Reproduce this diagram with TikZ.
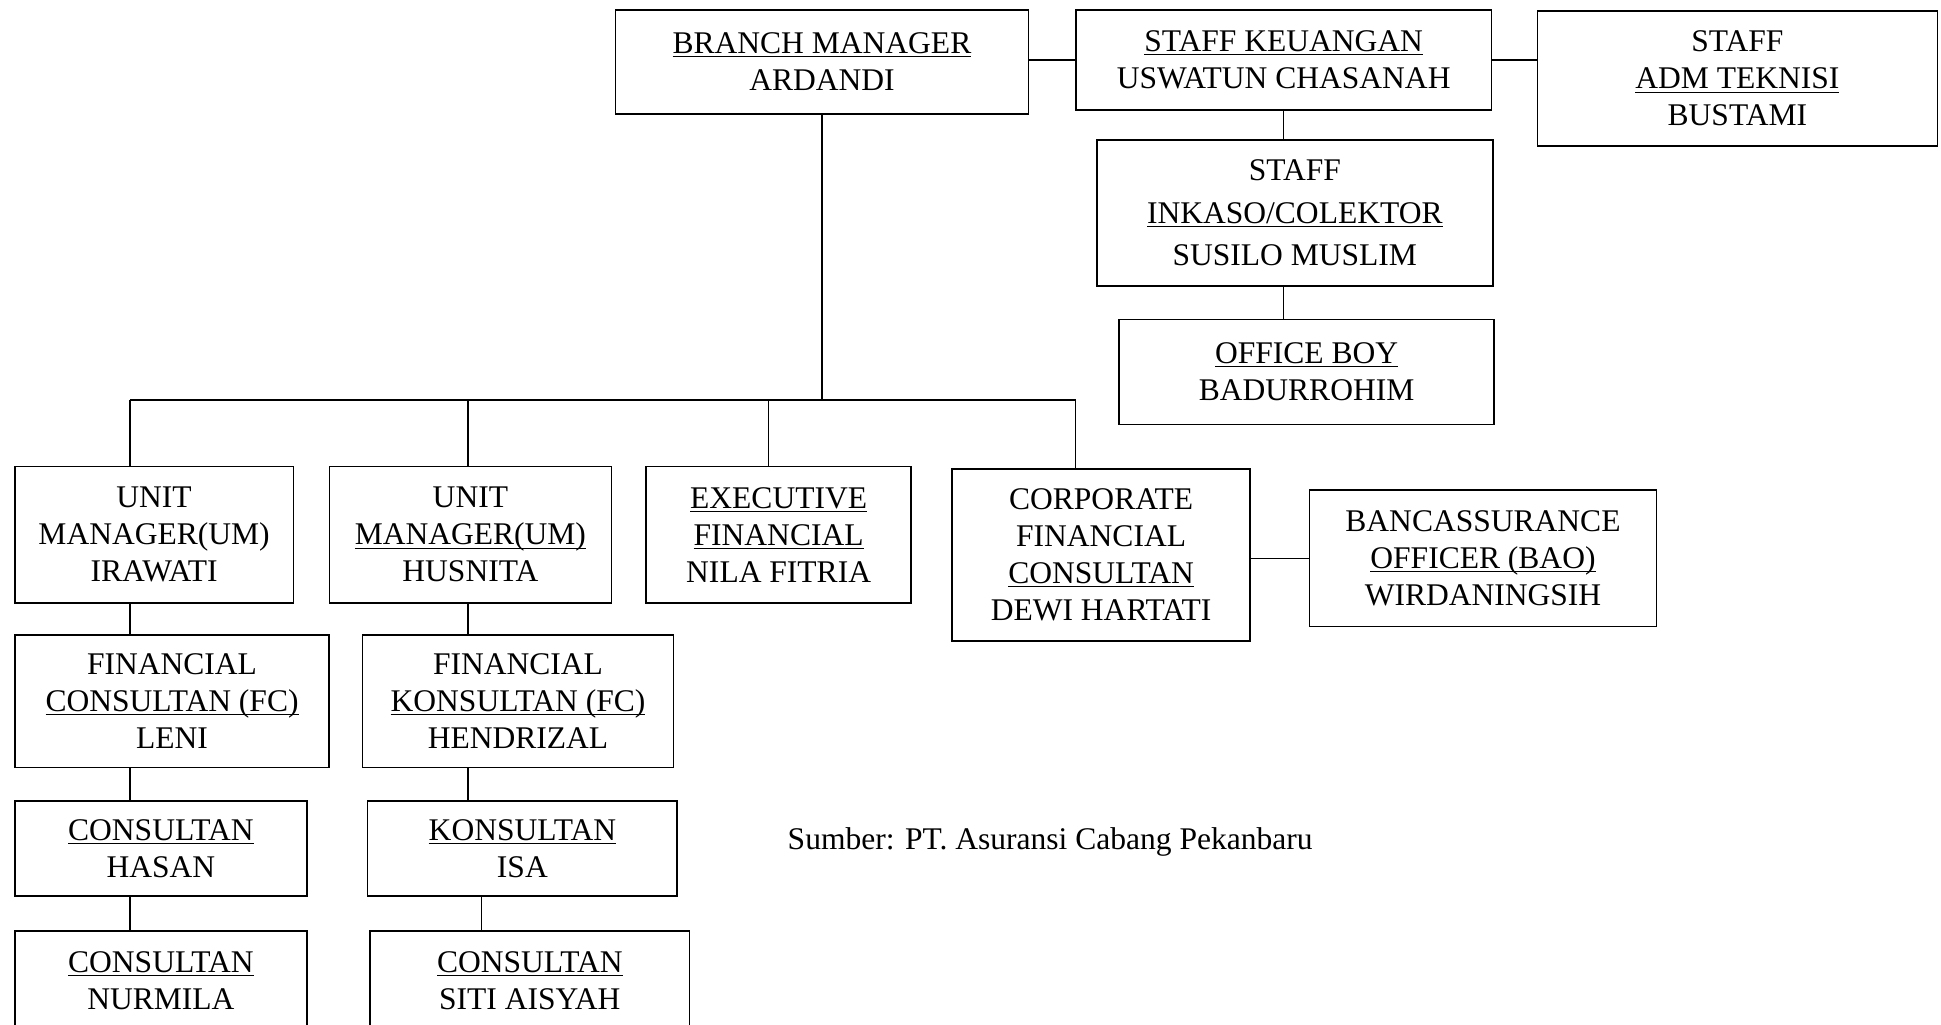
\documentclass[tikz,border=0pt]{standalone}
\usepackage{fontspec}
\setmainfont{Liberation Serif}
\newcommand{\garis}[1]{\underline{\raisebox{0pt}[\height][0pt]{#1}}}
\begin{document}
\begin{tikzpicture}
		[x=0.02cm,y=-0.02cm,kotak/.style={draw,line width=0.7pt,align=center,inner sep=0pt,font=\fontsize{14.5}{17}\selectfont},garisan/.style={line width=0.7pt}]
		\useasboundingbox (0,0) rectangle (1568,828);
		\clip (0,0) rectangle (1568,828);
		\node[kotak,name=bm,minimum width=6.68cm,minimum height=1.68cm]at(664,50){\garis{BRANCH MANAGER}\\ARDANDI};
		\node[kotak,name=sk,minimum width=6.72cm,minimum height=1.62cm]at(1037,48.5){\garis{STAFF KEUANGAN}\\USWATUN CHASANAH};
		\node[kotak,name=adm,minimum width=6.46cm,minimum height=2.18cm]at(1403.5,63.5){STAFF\\\garis{ADM TEKNISI}\\BUSTAMI};
		\node[kotak,name=inkaso,minimum width=6.40cm,minimum height=2.36cm,font=\fontsize{14.5}{19.5}\selectfont]at(1046,172){STAFF\\\garis{INKASO/COLEKTOR}\\SUSILO MUSLIM};
		\node[kotak,name=ob,minimum width=6.06cm,minimum height=1.70cm]at(1055.5,300.5){\garis{OFFICE BOY}\\BADURROHIM};
		\node[kotak,name=irawati,minimum width=4.50cm,minimum height=2.20cm]at(124.5,432){UNIT\\MANAGER(UM)\\IRAWATI};
		\node[kotak,name=husnita,minimum width=4.56cm,minimum height=2.20cm]at(380,432){UNIT\\\garis{MANAGER(UM)}\\HUSNITA};
		\node[kotak,name=exec,minimum width=4.28cm,minimum height=2.20cm]at(629,432){\garis{EXECUTIVE}\\\garis{FINANCIAL}\\NILA FITRIA};
		\node[kotak,name=corporate,minimum width=4.82cm,minimum height=2.78cm]at(889.5,448.5){CORPORATE\\FINANCIAL\\\garis{CONSULTAN}\\DEWI HARTATI};
		\node[kotak,name=banc,minimum width=5.60cm,minimum height=2.20cm]at(1198,451){BANCASSURANCE\\\garis{OFFICER (BAO)}\\WIRDANINGSIH};
		\node[kotak,name=leni,minimum width=5.08cm,minimum height=2.14cm]at(139,566.5){FINANCIAL\\\garis{CONSULTAN (FC)}\\LENI};
		\node[kotak,name=hendrizal,minimum width=5.02cm,minimum height=2.14cm]at(418.5,566.5){FINANCIAL\\\garis{KONSULTAN (FC)}\\HENDRIZAL};
		\node[kotak,name=hasan,minimum width=4.72cm,minimum height=1.54cm]at(130,685.5){\garis{CONSULTAN}\\HASAN};
		\node[kotak,name=isa,minimum width=5.00cm,minimum height=1.54cm]at(422,685.5){\garis{KONSULTAN}\\ISA};
		\node[kotak,name=nurmila,minimum width=4.72cm,minimum height=1.60cm]at(130,792){\garis{CONSULTAN}\\NURMILA};
		\node[kotak,name=siti,minimum width=5.16cm,minimum height=1.60cm]at(428,792){\garis{CONSULTAN}\\SITI AISYAH};
		\node[anchor=west,inner sep=0pt,font=\fontsize{14.5}{17}\selectfont,name=sumber]at(636,680){Sumber: PT. Asuransi Cabang Pekanbaru};
		\coordinate (ka) at (105,323);
		\coordinate (kb) at (378,323);
		\coordinate (kc) at (621,323);
		\coordinate (kd) at (869,323);
		\coordinate (ke) at (389,724);
		\draw[garisan] (sk.west)--(sk.west-|bm.east);
		\draw[garisan] (sk.east)--(sk.east-|adm.west);
		\draw[garisan] (sk.south)--(sk.south|-inkaso.north);
		\draw[garisan] (sk.south|-inkaso.south)--(sk.south|-ob.north);
		\draw[garisan] (bm.south)--(bm.south|-ka);
		\draw[garisan] (ka)--(kd);
		\draw[garisan] (ka)--(ka|-irawati.north);
		\draw[garisan] (kb)--(kb|-husnita.north);
		\draw[garisan] (kc)--(kc|-exec.north);
		\draw[garisan] (kd)--(kd|-corporate.north);
		\draw[garisan] (banc.west)--(banc.west-|corporate.east);
		\draw[garisan] (ka|-irawati.south)--(ka|-leni.north);
		\draw[garisan] (ka|-leni.south)--(ka|-hasan.north);
		\draw[garisan] (ka|-hasan.south)--(ka|-nurmila.north);
		\draw[garisan] (kb|-husnita.south)--(kb|-hendrizal.north);
		\draw[garisan] (kb|-hendrizal.south)--(kb|-isa.north);
		\draw[garisan] (ke)--(ke|-siti.north);
	\end{tikzpicture}
\end{document}
